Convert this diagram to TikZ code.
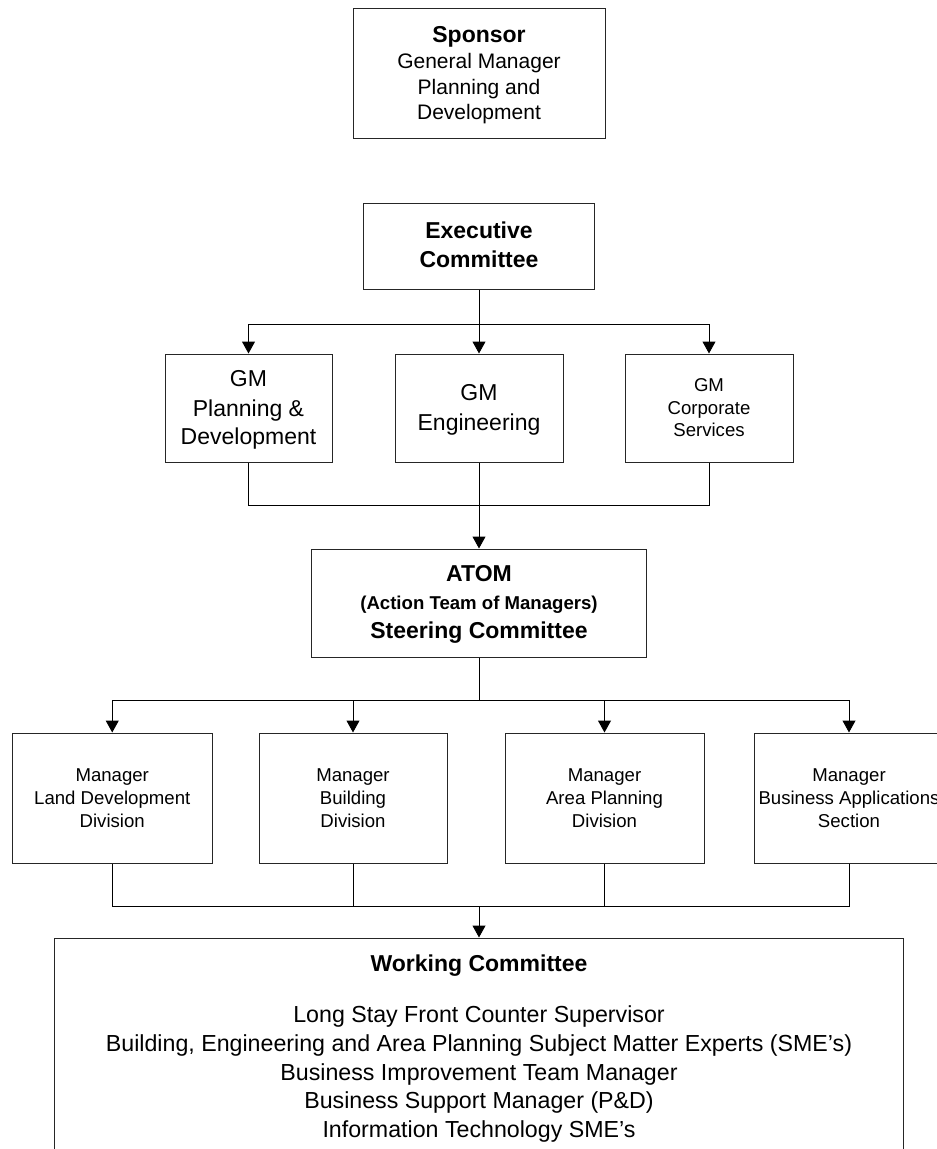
\documentclass[tikz,border=0pt]{standalone}
\usepackage{fontspec}
\setmainfont{Liberation Sans}
\usetikzlibrary{arrows.meta}
\begin{document}
\begin{tikzpicture}[x=1pt,y=-1pt,
  box/.style={draw=black!85, line width=1pt, inner sep=0pt, fill=white},
  conn/.style={draw=black, line width=1pt},
  arr/.style={conn, -{Triangle[length=12pt,width=13pt]}},
  tl/.style={anchor=base, inner sep=0pt, text=black},
  big/.style={tl, font=\fontsize{23}{28}\selectfont},
  bigb/.style={tl, font=\fontsize{23}{28}\selectfont\bfseries},
  mid/.style={tl, font=\fontsize{21}{25}\selectfont},
  sml/.style={tl, font=\fontsize{18.6}{22}\selectfont},
  smlb/.style={tl, font=\fontsize{18.6}{22}\selectfont\bfseries},
  lst/.style={tl, font=\fontsize{23.2}{28}\selectfont}]
\useasboundingbox[fill=white] (0,0) rectangle (937,1149);

% boxes
\node[box, minimum width=252pt, minimum height=130pt] (sp) at (479,73) {};
\node[box, minimum width=231pt, minimum height=86pt] (ex) at (479,246) {};
\node[box, minimum width=167pt, minimum height=108pt] (gm1) at (248.5,408) {};
\node[box, minimum width=168pt, minimum height=108pt] (gm2) at (479,408) {};
\node[box, minimum width=168pt, minimum height=108pt] (gm3) at (709,408) {};
\node[box, minimum width=335pt, minimum height=108pt] (atom) at (479,603) {};
\node[box, minimum width=199.5pt, minimum height=130pt] (m1) at (112.25,798) {};
\node[box, minimum width=188pt, minimum height=130pt] (m2) at (353,798) {};
\node[box, minimum width=199pt, minimum height=130pt] (m3) at (604.5,798) {};
\node[box, minimum width=190pt, minimum height=130pt] (m4) at (849,798) {};
\node[box, minimum width=849pt, minimum height=222pt] (wc) at (479,1049) {};

% junction coordinates
\coordinate (b1) at (479,324);
\coordinate (j1) at (479,505);
\coordinate (b2) at (479,700);
\coordinate (j2) at (479,906);

% connectors
\draw[arr] (ex.south) -- (gm2.north);
\draw[arr] (b1) -| (gm1.north);
\draw[arr] (b1) -| (gm3.north);
\draw[conn] (gm1.south) |- (j1);
\draw[conn] (gm3.south) |- (j1);
\draw[arr] (gm2.south) -- (atom.north);
\draw[conn] (atom.south) -- (b2);
\draw[arr] (b2) -| (m1.north);
\draw[arr] (b2) -| (m2.north);
\draw[arr] (b2) -| (m3.north);
\draw[arr] (b2) -| (m4.north);
\draw[conn] (m1.south) |- (j2);
\draw[conn] (m2.south) |- (j2);
\draw[conn] (m3.south) |- (j2);
\draw[conn] (m4.south) |- (j2);
\draw[arr] (j2) -- (wc.north);

% texts
\node[bigb] (sp1) at (479,42) {Sponsor};
\node[mid] (sp2) at (479,68.3) {General Manager};
\node[mid] (sp3) at (479,94) {Planning and};
\node[mid] (sp4) at (479,119.3) {Development};

\node[bigb] (ex1) at (479,238) {Executive};
\node[bigb] (ex2) at (479,267) {Committee};

\node[big] (g11) at (248.5,386.7) {GM};
\node[big] (g12) at (248.5,416) {Planning \&};
\node[big] (g13) at (248.5,444.3) {Development};

\node[big] (g21) at (479,400.7) {GM};
\node[big] (g22) at (479,430) {Engineering};

\node[sml] (g31) at (709,391) {GM};
\node[sml] (g32) at (709,414) {Corporate};
\node[sml] (g33) at (709,436.7) {Services};

\node[bigb] (a1) at (479,581.7) {ATOM};
\node[smlb] (a2) at (479,609.3) {(Action Team of Managers)};
\node[bigb] (a3) at (479,638.3) {Steering Committee};

\node[sml] (m11) at (112.25,781) {Manager};
\node[sml] (m12) at (112.25,804.3) {Land Development};
\node[sml] (m13) at (112.25,827) {Division};

\node[sml] (m21) at (353,781) {Manager};
\node[sml] (m22) at (353,804.3) {Building};
\node[sml] (m23) at (353,827) {Division};

\node[sml] (m31) at (604.5,781) {Manager};
\node[sml] (m32) at (604.5,804.3) {Area Planning};
\node[sml] (m33) at (604.5,827) {Division};

\node[sml] (m41) at (849,781) {Manager};
\node[sml] (m42) at (849,804.3) {Business Applications};
\node[sml] (m43) at (849,827) {Section};

\node[bigb] (w0) at (479,971) {Working Committee};
\node[lst] (w1) at (479,1022) {Long Stay Front Counter Supervisor};
\node[lst] (w2) at (479,1051) {Building, Engineering and Area Planning Subject Matter Experts (SME’s)};
\node[lst] (w3) at (479,1080) {Business Improvement Team Manager};
\node[lst] (w4) at (479,1108) {Business Support Manager (P\&D)};
\node[lst] (w5) at (479,1137) {Information Technology SME’s};
\end{tikzpicture}
\end{document}
